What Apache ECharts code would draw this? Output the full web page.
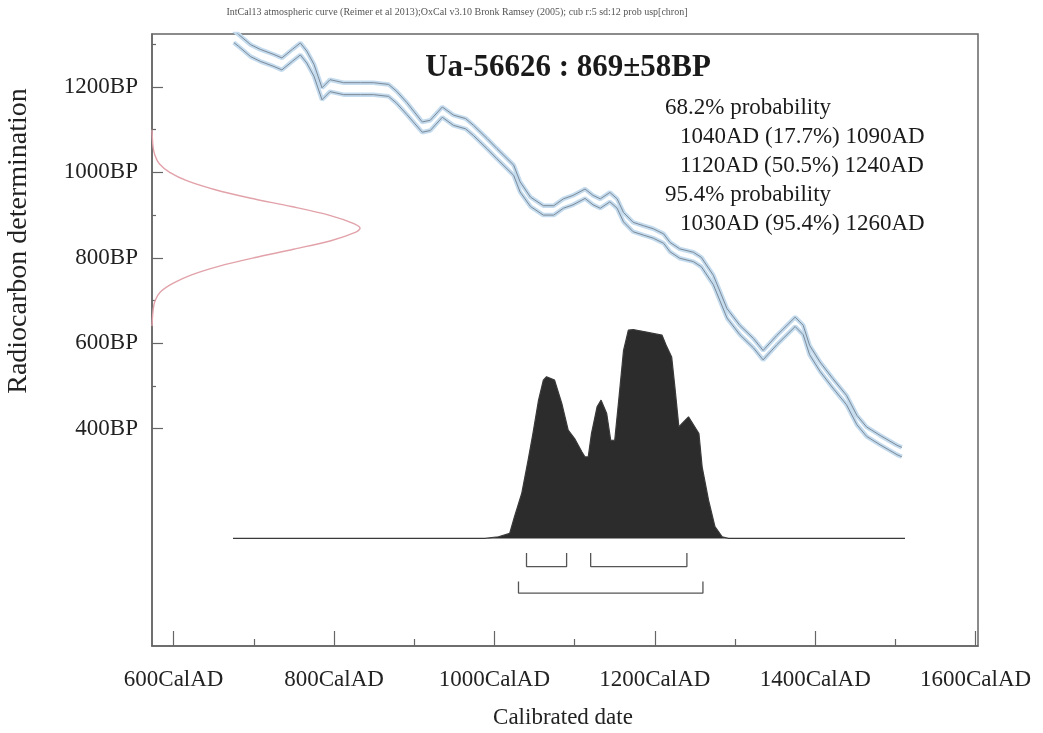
<!DOCTYPE html>
<html><head><meta charset="utf-8">
<script src="https://cdn.jsdelivr.net/npm/echarts@6/dist/echarts.min.js"></script>
<style>html,body{margin:0;padding:0;background:#fff}#c{width:1043px;height:733px}</style>
</head><body><div id="c"></div>
<script>
// ---------- data ----------
const sampleName = 'Ua-56626';
const bpMean = 869;
const bpError = 58;
const headerText = 'IntCal13 atmospheric curve (Reimer et al 2013);OxCal v3.10 Bronk Ramsey (2005); cub r:5 sd:12 prob usp[chron]';

// calibration curve (centre, BP) and its 1-sigma
const curveYears = [675, 681, 696, 708, 725, 735, 748, 758, 766, 775, 785, 795, 812, 833, 849, 868, 878, 891, 910, 920, 935, 949, 964, 974, 991, 1003, 1024, 1032, 1045, 1061, 1074, 1086, 1098, 1113, 1123, 1132, 1144, 1153, 1161, 1173, 1186, 1198, 1211, 1219, 1231, 1248, 1258, 1273, 1290, 1306, 1323, 1335, 1352, 1375, 1385, 1393, 1406, 1422, 1439, 1452, 1464, 1481, 1502, 1508];
const curveBP =    [1318, 1309, 1285, 1274, 1262, 1254, 1274, 1289, 1270, 1239, 1184, 1203, 1196, 1196, 1196, 1192, 1176, 1149, 1106, 1110, 1141, 1122, 1114, 1098, 1067, 1044, 1005, 966, 931, 911, 911, 927, 935, 950, 935, 927, 942, 927, 895, 872, 864, 857, 845, 825, 810, 802, 790, 748, 670, 631, 600, 572, 607, 650, 631, 584, 545, 506, 467, 420, 393, 373, 350, 345];
const curveSigma = [14, 14, 14, 14, 14, 14, 14, 14, 14, 14, 14, 14, 14, 14, 14, 14, 14, 14, 12, 12, 12, 12, 12, 12, 12, 12, 12, 12, 11, 11, 11, 11, 11, 11, 11, 11, 11, 11, 11, 11, 11, 11, 11, 11, 11, 11, 11, 11, 11, 11, 11, 11, 11, 11, 11, 11, 11, 11, 11, 11, 11, 11, 11, 11];

// radiocarbon measurement distribution (relative probability vs BP)
const measBP =   [640, 680, 700, 720, 740, 760, 780, 800, 820, 840, 860, 869, 880, 900, 920, 940, 960, 980, 1000, 1020, 1040, 1060, 1100];
const measProb = [0, 0.006, 0.015, 0.04, 0.1, 0.19, 0.32, 0.49, 0.68, 0.86, 0.98, 1.0, 0.97, 0.85, 0.67, 0.47, 0.3, 0.17, 0.085, 0.035, 0.014, 0.005, 0];

// calibrated date distribution (relative probability vs cal AD)
const distYears = [674, 988, 1005, 1019, 1025, 1034, 1042, 1048, 1055, 1061, 1065, 1075, 1084, 1092, 1100, 1109, 1113, 1117, 1121, 1128, 1133, 1140, 1145, 1150, 1155, 1161, 1167, 1173, 1188, 1209, 1215, 1221, 1225, 1230, 1234, 1242, 1255, 1259, 1267, 1275, 1284, 1292, 1512];
const distProb =  [0, 0, 0.008, 0.024, 0.104, 0.215, 0.375, 0.502, 0.662, 0.758, 0.774, 0.758, 0.646, 0.518, 0.478, 0.415, 0.39, 0.39, 0.502, 0.63, 0.662, 0.598, 0.47, 0.47, 0.662, 0.90, 0.997, 1.0, 0.989, 0.973, 0.917, 0.869, 0.726, 0.534, 0.55, 0.582, 0.502, 0.343, 0.183, 0.056, 0.008, 0, 0];

// calibrated ranges
const ranges68 = [[1040, 1090], [1120, 1240]];
const pct68 = [17.7, 50.5];
const ranges95 = [[1030, 1260]];
const pct95 = [95.4];

// ticks
const xTicks = [600, 800, 1000, 1200, 1400, 1600];
const xMinorTicks = [700, 900, 1100, 1300, 1500];
const yTicks = [400, 600, 800, 1000, 1200];
const yMinorTicks = [500, 700, 900, 1100, 1300];

// ---------- chart ----------
const SERIF = '"Liberation Serif", "DejaVu Serif", serif';
const X_MIN = 573, X_MAX = 1603, Y_MIN = -109, Y_MAX = 1324;
const row68 = [109, 77], row95 = [42, 15];

const upper = curveYears.map((y, i) => [y, curveBP[i] + curveSigma[i]]);
const lower = curveYears.map((y, i) => [y, curveBP[i] - curveSigma[i]]);

function bracket(r, lv) {
  return [[r[0], lv[0]], [r[0], lv[1]], [r[1], lv[1]], [r[1], lv[0]]];
}
const bracketSeries = [];
ranges68.forEach(r => bracketSeries.push(bracket(r, row68)));
ranges95.forEach(r => bracketSeries.push(bracket(r, row95)));

const probLines = [];
probLines.push({t: '68.2% probability', ind: 0});
ranges68.forEach((r, i) => probLines.push({t: r[0] + 'AD (' + pct68[i].toFixed(1) + '%) ' + r[1] + 'AD', ind: 1}));
probLines.push({t: '95.4% probability', ind: 0});
ranges95.forEach((r, i) => probLines.push({t: r[0] + 'AD (' + pct95[i].toFixed(1) + '%) ' + r[1] + 'AD', ind: 1}));

const graphics = [
  {type: 'text', x: 457, y: 12, style: {text: headerText, font: '10px ' + SERIF, fill: '#555', textAlign: 'center', textVerticalAlign: 'middle', verticalAlign: 'middle'}},
  {type: 'text', x: 568, y: 68, style: {text: sampleName + ' : ' + bpMean + '\u00b1' + bpError + 'BP', font: 'bold 31px ' + SERIF, fill: '#1a1a1a', textAlign: 'center', textVerticalAlign: 'middle', verticalAlign: 'middle'}},
  {type: 'text', x: 563, y: 718, style: {text: 'Calibrated date', font: '23px ' + SERIF, fill: '#222', textAlign: 'center', textVerticalAlign: 'middle', verticalAlign: 'middle'}},
  {type: 'text', x: 19, y: 241, rotation: Math.PI / 2, style: {text: 'Radiocarbon determination', font: '28px ' + SERIF, fill: '#222', textAlign: 'center', textVerticalAlign: 'middle', verticalAlign: 'middle'}}
];
probLines.forEach((p, i) => {
  graphics.push({type: 'text', x: p.ind ? 680 : 665, y: 108 + i * 29, style: {text: p.t, font: '23px ' + SERIF, fill: '#1a1a1a', textAlign: 'left', textVerticalAlign: 'middle', verticalAlign: 'middle'}});
});

const axisColor = '#666';
const option = {
  backgroundColor: '#fff',
  animation: false,
  grid: {left: 152, top: 34, right: 65, bottom: 87, show: true, borderColor: axisColor, borderWidth: 1.5, backgroundColor: 'transparent'},
  xAxis: [
    {type: 'value', min: X_MIN, max: X_MAX, position: 'bottom',
     axisLine: {show: true, onZero: false, lineStyle: {color: axisColor, width: 1.5}},
     axisTick: {show: true, inside: true, length: 15, customValues: xTicks, lineStyle: {color: axisColor, width: 1.2}},
     axisLabel: {show: true, customValues: xTicks, margin: 22, formatter: v => v + 'CalAD', color: '#222', fontFamily: SERIF, fontSize: 23},
     splitLine: {show: false}},
    {type: 'value', min: X_MIN, max: X_MAX, position: 'bottom',
     axisLine: {show: false, onZero: false},
     axisTick: {show: true, inside: true, length: 7, customValues: xMinorTicks, lineStyle: {color: axisColor, width: 1.2}},
     axisLabel: {show: false}, splitLine: {show: false}},
    {type: 'value', min: 0, max: 3.97, show: false, axisLine: {onZero: false}, splitLine: {show: false}}
  ],
  yAxis: [
    {type: 'value', min: Y_MIN, max: Y_MAX, position: 'left',
     axisLine: {show: true, onZero: false, lineStyle: {color: axisColor, width: 1.5}},
     axisTick: {show: true, inside: true, length: 11, customValues: yTicks, lineStyle: {color: axisColor, width: 1.2}},
     axisLabel: {show: true, customValues: yTicks, margin: 14, formatter: v => v + 'BP', color: '#222', fontFamily: SERIF, fontSize: 23},
     splitLine: {show: false}},
    {type: 'value', min: Y_MIN, max: Y_MAX, position: 'left',
     axisLine: {show: false, onZero: false},
     axisTick: {show: true, inside: true, length: 4, customValues: yMinorTicks, lineStyle: {color: axisColor, width: 1.2}},
     axisLabel: {show: false}, splitLine: {show: false}},
    {type: 'value', min: -0.5151, max: 2.4149, show: false, axisLine: {onZero: false}, splitLine: {show: false}}
  ],
  graphic: graphics,
  series: [
    {type: 'line', xAxisIndex: 2, yAxisIndex: 0, data: measBP.map((b, i) => [measProb[i], b]), smooth: 0.3, showSymbol: false, lineStyle: {color: '#e2a2aa', width: 1.4}, z: 3},
    {type: 'line', xAxisIndex: 0, yAxisIndex: 2, data: distYears.map((y, i) => [y, distProb[i]]), showSymbol: false,
     lineStyle: {color: '#3a3a3a', width: 1.2}, areaStyle: {color: '#2c2c2c', opacity: 1}, z: 2},
    {type: 'line', xAxisIndex: 0, yAxisIndex: 0, data: upper, showSymbol: false, lineStyle: {color: '#c4dbee', width: 4.5}, z: 4},
    {type: 'line', xAxisIndex: 0, yAxisIndex: 0, data: lower, showSymbol: false, lineStyle: {color: '#c4dbee', width: 4.5}, z: 4},
    {type: 'line', xAxisIndex: 0, yAxisIndex: 0, data: upper, showSymbol: false, lineStyle: {color: '#7c8a98', width: 1}, z: 5},
    {type: 'line', xAxisIndex: 0, yAxisIndex: 0, data: lower, showSymbol: false, lineStyle: {color: '#7c8a98', width: 1}, z: 5}
  ].concat(bracketSeries.map(d => ({type: 'line', xAxisIndex: 0, yAxisIndex: 0, data: d, showSymbol: false, lineStyle: {color: '#555', width: 1.3}, z: 3})))
};

const chart = echarts.init(document.getElementById('c'), null, {renderer: 'canvas'});
chart.setOption(option);
</script>
</body></html>
